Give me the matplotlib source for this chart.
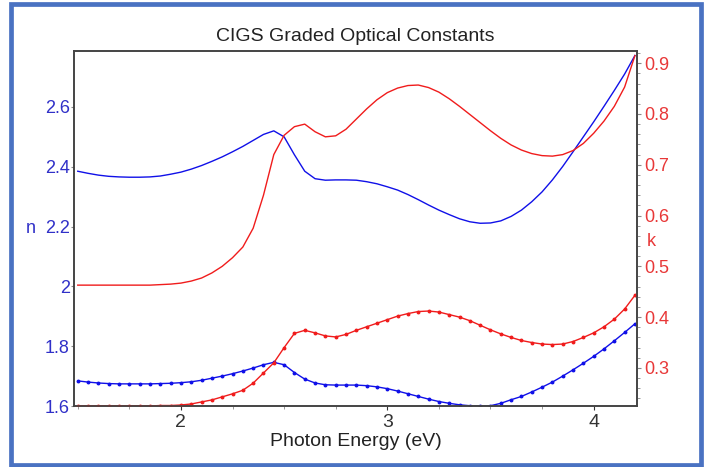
import matplotlib
matplotlib.use("Agg")
import matplotlib.pyplot as plt
from matplotlib.patches import Rectangle
from matplotlib.ticker import MultipleLocator

plt.rcParams['font.family'] = ['Liberation Sans', 'DejaVu Sans']

# photon energy grid (eV)
energy = [1.50, 1.55, 1.60, 1.65, 1.70, 1.75, 1.80, 1.85, 1.90, 1.95,
          2.00, 2.05, 2.10, 2.15, 2.20, 2.25, 2.30, 2.35, 2.40, 2.45,
          2.50, 2.55, 2.60, 2.65, 2.70, 2.75, 2.80, 2.85, 2.90, 2.95,
          3.00, 3.05, 3.10, 3.15, 3.20, 3.25, 3.30, 3.35, 3.40, 3.45,
          3.50, 3.55, 3.60, 3.65, 3.70, 3.75, 3.80, 3.85, 3.90, 3.95,
          4.00, 4.05, 4.10, 4.15, 4.20]

# top of the graded layer (solid lines)
n_top = [2.385, 2.378, 2.372, 2.368, 2.366, 2.365, 2.365, 2.366, 2.369, 2.375,
         2.382, 2.392, 2.404, 2.418, 2.433, 2.450, 2.468, 2.488, 2.508, 2.520,
         2.500, 2.440, 2.385, 2.360, 2.355, 2.356, 2.356, 2.355, 2.350, 2.343,
         2.333, 2.322, 2.307, 2.290, 2.272, 2.255, 2.240, 2.226, 2.216, 2.211,
         2.212, 2.219, 2.234, 2.255, 2.283, 2.316, 2.356, 2.401, 2.450, 2.500,
         2.550, 2.602, 2.655, 2.710, 2.772]
k_top = [0.463, 0.463, 0.463, 0.463, 0.463, 0.463, 0.463, 0.463, 0.464, 0.465,
         0.467, 0.471, 0.477, 0.487, 0.500, 0.517, 0.538, 0.575, 0.640, 0.720,
         0.758, 0.775, 0.780, 0.765, 0.755, 0.757, 0.770, 0.790, 0.810, 0.828,
         0.842, 0.851, 0.856, 0.857, 0.852, 0.843, 0.830, 0.815, 0.799, 0.783,
         0.767, 0.752, 0.739, 0.729, 0.722, 0.718, 0.717, 0.720, 0.728, 0.742,
         0.762, 0.786, 0.815, 0.853, 0.915]

# bottom of the graded layer (dotted lines)
n_bot = [1.684, 1.680, 1.677, 1.675, 1.674, 1.674, 1.674, 1.674, 1.675, 1.676,
         1.678, 1.681, 1.686, 1.693, 1.700, 1.708, 1.717, 1.727, 1.738, 1.746,
         1.738, 1.712, 1.690, 1.677, 1.671, 1.670, 1.670, 1.670, 1.668, 1.664,
         1.658, 1.650, 1.641, 1.632, 1.623, 1.615, 1.609, 1.604, 1.601, 1.600,
         1.601, 1.609, 1.621, 1.632, 1.647, 1.663, 1.680, 1.700, 1.721, 1.743,
         1.766, 1.791, 1.818, 1.846, 1.875]
k_bot = [0.225, 0.225, 0.225, 0.225, 0.225, 0.225, 0.225, 0.225, 0.226, 0.226,
         0.227, 0.229, 0.233, 0.237, 0.243, 0.249, 0.256, 0.270, 0.290, 0.310,
         0.340, 0.368, 0.374, 0.369, 0.363, 0.361, 0.366, 0.374, 0.381, 0.388,
         0.395, 0.402, 0.407, 0.411, 0.412, 0.410, 0.405, 0.400, 0.393, 0.384,
         0.375, 0.367, 0.360, 0.354, 0.350, 0.347, 0.346, 0.347, 0.352, 0.360,
         0.369, 0.381, 0.396, 0.416, 0.443]

blue = '#1010e8'
red = '#f01c1c'
blue_txt = '#3030c8'
red_txt = '#e83838'

fig = plt.figure(figsize=(7.07, 4.67), dpi=100)
ax = fig.add_axes([0.1047, 0.1306, 0.7963, 0.7602])
ax2 = ax.twinx()

ax.plot(energy, n_top, color=blue, lw=1.0)
ax.plot(energy, n_bot, color=blue, lw=1.0, marker='o', ms=1.8)
ax2.plot(energy, k_top, color=red, lw=1.0)
ax2.plot(energy, k_bot, color=red, lw=1.0, marker='o', ms=1.8)

ax.set_xlim(1.482, 4.21)
ax.set_ylim(1.6, 2.787)
ax2.set_ylim(0.225, 0.924)

ax.xaxis.set_major_locator(MultipleLocator(1))
ax.xaxis.set_minor_locator(MultipleLocator(0.25))
ax2.yaxis.set_major_locator(MultipleLocator(0.1))
ax2.yaxis.set_minor_locator(MultipleLocator(0.02))

ax.set_yticks([1.6, 1.8, 2.0, 2.2, 2.4, 2.6])
ax.set_yticklabels(['1.6', '1.8', '2', '2.2', '2.4', '2.6'])

fs = 14
ax.tick_params(axis='x', labelsize=fs, colors='#333333', length=3, width=0.8, pad=3)
ax.tick_params(axis='x', which='minor', length=2, color='#888888')
ax.tick_params(axis='y', labelsize=13, labelcolor=blue_txt, color='#888888', length=2, pad=1)
ax2.tick_params(axis='y', labelsize=13, labelcolor=red_txt, color='#888888', length=3, pad=2)
ax2.tick_params(axis='y', which='minor', length=2, color='#888888')

for a in (ax, ax2):
    for s in a.spines.values():
        s.set_color('#444444')
        s.set_linewidth(1.2)

ax.set_xlabel('Photon Energy (eV)', fontsize=fs, color='#222222', labelpad=1)
ax.set_title('CIGS Graded Optical Constants', fontsize=fs, color='#222222', pad=7)
fig.text(26 / 707, 1 - 229 / 467, 'n', fontsize=13, color=blue_txt, ha='left', va='center')
fig.text(647 / 707, 1 - 242 / 467, 'k', fontsize=13, color=red_txt, ha='left', va='center')

# blue frame round the whole picture
fig.patches.append(Rectangle((11 / 707, 2 / 467), 689.5 / 707, 461 / 467,
                             transform=fig.transFigure, fill=False,
                             ec='#4a72c2', lw=3.4))

fig.savefig('out.png', dpi=100)
